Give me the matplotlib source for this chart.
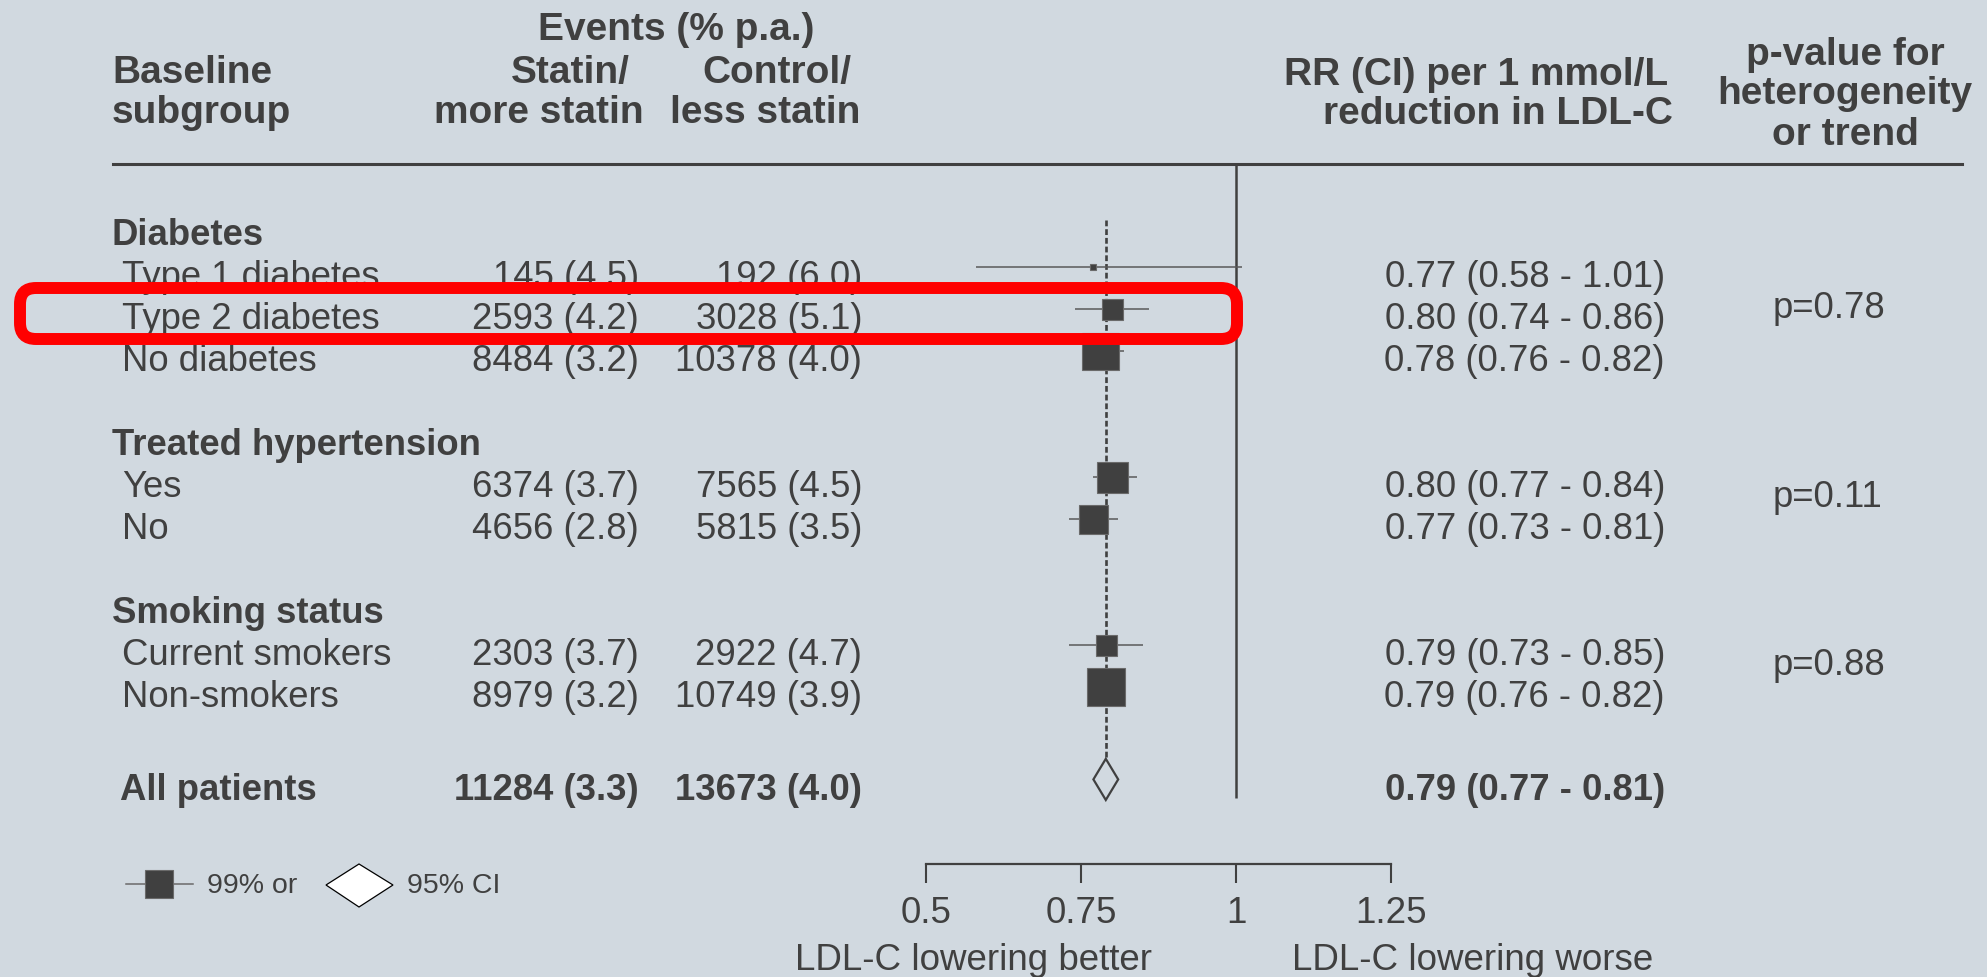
import matplotlib.pyplot as plt
from matplotlib.patches import FancyBboxPatch, Polygon
from matplotlib.lines import Line2D
from matplotlib.transforms import blended_transform_factory, IdentityTransform

plt.rcParams['font.family'] = ['Liberation Sans', 'DejaVu Sans']

INK = '#404040'
BG = '#d1d9e0'
W, H = 1987, 977

# data
groups = ['Diabetes', 'Treated hypertension', 'Smoking status']
subgroups = [['Type 1 diabetes', 'Type 2 diabetes', 'No diabetes'],
             ['Yes', 'No'],
             ['Current smokers', 'Non-smokers']]
statin = [['145 (4.5)', '2593 (4.2)', '8484 (3.2)'],
          ['6374 (3.7)', '4656 (2.8)'],
          ['2303 (3.7)', '8979 (3.2)']]
control = [['192 (6.0)', '3028 (5.1)', '10378 (4.0)'],
           ['7565 (4.5)', '5815 (3.5)'],
           ['2922 (4.7)', '10749 (3.9)']]
rr = [[0.77, 0.80, 0.78], [0.80, 0.77], [0.79, 0.79]]
rr_lo = [[0.58, 0.74, 0.76], [0.77, 0.73], [0.73, 0.76]]
rr_hi = [[1.01, 0.86, 0.82], [0.84, 0.81], [0.85, 0.82]]
box_px = [[6, 21, 37], [31, 29], [21, 38]]
p_values = ['p=0.78', 'p=0.11', 'p=0.88']

total_statin = '11284 (3.3)'
total_control = '13673 (4.0)'
total_rr, total_lo, total_hi = 0.79, 0.77, 0.81

ticks = [0.5, 0.75, 1, 1.25]
tick_labels = ['0.5', '0.75', '1', '1.25']


def fx(x):
    return x / W


def fy(y):
    return 1 - y / H


fig = plt.figure(figsize=(W / 100, H / 100), dpi=100, facecolor=BG)
ax = fig.add_axes([0, 0, 1, 1])
ax.set_facecolor(BG)
# 1 RR unit = 620 px, RR=1 at x=1236 px; one row = 42 px, row 0 at y=225 px
ax.set_xlim(-616 / 620, (W - 616) / 620)
ax.set_ylim((H - 225) / 42, -225 / 42)
for s in ['top', 'left', 'right']:
    ax.spines[s].set_visible(False)
ax.set_yticks([])

tr = blended_transform_factory(fig.transFigure, ax.transData)
TXT = 0.26  # text sits slightly below the marker centre
BODY = 26.3

# header
fig.text(fx(676), fy(40), 'Events (% p.a.)', ha='center', va='baseline',
         fontsize=28, fontweight='bold', color=INK)
fig.text(fx(112), fy(83), 'Baseline', ha='left', va='baseline',
         fontsize=28, fontweight='bold', color=INK)
fig.text(fx(112), fy(123), 'subgroup', ha='left', va='baseline',
         fontsize=28, fontweight='bold', color=INK)
fig.text(fx(630), fy(83), 'Statin/', ha='right', va='baseline',
         fontsize=28, fontweight='bold', color=INK)
fig.text(fx(644), fy(123), 'more statin', ha='right', va='baseline',
         fontsize=28, fontweight='bold', color=INK)
fig.text(fx(851), fy(83), 'Control/', ha='right', va='baseline',
         fontsize=28, fontweight='bold', color=INK)
fig.text(fx(860), fy(123), 'less statin', ha='right', va='baseline',
         fontsize=28, fontweight='bold', color=INK)
fig.text(fx(1668), fy(85), 'RR (CI) per 1 mmol/L', ha='right', va='baseline',
         fontsize=28, fontweight='bold', color=INK)
fig.text(fx(1673), fy(124), 'reduction in LDL-C', ha='right', va='baseline',
         fontsize=28, fontweight='bold', color=INK)
for line, yb in zip(['p-value for', 'heterogeneity', 'or trend'], [65, 104, 145]):
    fig.text(fx(1845), fy(yb), line, ha='center', va='baseline',
             fontsize=28, fontweight='bold', color=INK)
fig.add_artist(Line2D([fx(113), fx(1962)], [fy(164), fy(164)],
                      transform=fig.transFigure, color=INK, lw=2.2))

# rows
r = 0
last = 0
for gi, g in enumerate(groups):
    ax.text(fx(112), r + TXT, g, transform=tr, ha='left', va='center',
            fontsize=BODY, fontweight='bold', color=INK)
    rows = [r + 1 + k for k in range(len(subgroups[gi]))]
    for k, y in enumerate(rows):
        ax.text(fx(122), y + TXT, subgroups[gi][k], transform=tr, ha='left',
                va='center', fontsize=BODY, color=INK)
        ax.text(fx(639), y + TXT, statin[gi][k], transform=tr, ha='right',
                va='center', fontsize=BODY, color=INK)
        ax.text(fx(862), y + TXT, control[gi][k], transform=tr, ha='right',
                va='center', fontsize=BODY, color=INK)
        ax.text(fx(1665), y + TXT, '%.2f (%.2f - %.2f)' % (rr[gi][k], rr_lo[gi][k], rr_hi[gi][k]),
                transform=tr, ha='right', va='center', fontsize=BODY, color=INK)
    ax.hlines(rows, rr_lo[gi], rr_hi[gi], color='#5a5a5a', lw=1.1, zorder=2)
    for k, y in enumerate(rows):
        ax.plot(rr[gi][k], y, marker='s', ms=box_px[gi][k] * 0.72, mfc=INK,
                mec='#6a6a6a', mew=0.8, ls='none', zorder=3)
    ax.text(fx(1773), (rows[0] + rows[-1]) / 2 + TXT - 0.27, p_values[gi],
            transform=tr, ha='left', va='center', fontsize=BODY, color=INK)
    last = rows[-1]
    r = rows[-1] + 2

y_all = last + 2.2
ax.text(fx(120), y_all + TXT, 'All patients', transform=tr, ha='left', va='center',
        fontsize=BODY, fontweight='bold', color=INK)
ax.text(fx(639), y_all + TXT, total_statin, transform=tr, ha='right', va='center',
        fontsize=BODY, fontweight='bold', color=INK)
ax.text(fx(862), y_all + TXT, total_control, transform=tr, ha='right', va='center',
        fontsize=BODY, fontweight='bold', color=INK)
ax.text(fx(1665), y_all + TXT, '%.2f (%.2f - %.2f)' % (total_rr, total_lo, total_hi),
        transform=tr, ha='right', va='center', fontsize=BODY, fontweight='bold', color=INK)
ax.add_patch(Polygon([(total_lo, y_all), (total_rr, y_all - 0.49),
                      (total_hi, y_all), (total_rr, y_all + 0.49)],
                     closed=True, fill=False, ec=INK, lw=1.6, zorder=3))

# reference lines
ax.vlines(1, (164 - 225) / 42, (798 - 225) / 42, color=INK, lw=1.8, zorder=1)
ax.plot([total_rr, total_rr], [-0.12, y_all - 0.49], color=INK, lw=1.9,
        dashes=(2.2, 1.1), zorder=1)

# scale
ax.spines['bottom'].set_position(('data', (864 - 225) / 42))
ax.spines['bottom'].set_bounds(0.5, 1.25)
ax.spines['bottom'].set_color(INK)
ax.spines['bottom'].set_linewidth(1.6)
ax.set_xticks(ticks, labels=tick_labels)
ax.tick_params(axis='x', direction='out', length=14, width=1.5, color=INK,
               labelsize=26.5, labelcolor=INK, pad=9)
ax.text(0.577, (960 - 225) / 42, 'LDL-C lowering better', ha='center', va='center',
        fontsize=26.5, color=INK)
ax.text(1.381, (960 - 225) / 42, 'LDL-C lowering worse', ha='center', va='center',
        fontsize=26.5, color=INK)

# legend key
fig.add_artist(Line2D([fx(126), fx(193)], [fy(884), fy(884)], transform=fig.transFigure,
                      color='#6a6a6a', lw=1.1))
fig.add_artist(Line2D([fx(159)], [fy(884)], transform=fig.transFigure, marker='s',
                      ms=20, mfc=INK, mec='#6a6a6a', mew=0.8, ls='none'))
fig.text(fx(207), fy(886), '99% or', ha='left', va='center', fontsize=20.5, color=INK)
fig.add_artist(Polygon([(fx(326), fy(885)), (fx(359), fy(864)), (fx(393), fy(885)),
                        (fx(359), fy(907))], closed=True, transform=fig.transFigure,
                       fc='white', ec='black', lw=0.9))
fig.text(fx(407), fy(886), '95% CI', ha='left', va='center', fontsize=20.5, color=INK)

# highlight around Type 2 diabetes row
fig.add_artist(FancyBboxPatch((20, H - 339), 1217, 51,
                              boxstyle='round,pad=0,rounding_size=16',
                              transform=IdentityTransform(), fc='none',
                              ec='#ff0000', lw=8.6, zorder=10))

fig.savefig('out.png', dpi=100, facecolor=BG)
